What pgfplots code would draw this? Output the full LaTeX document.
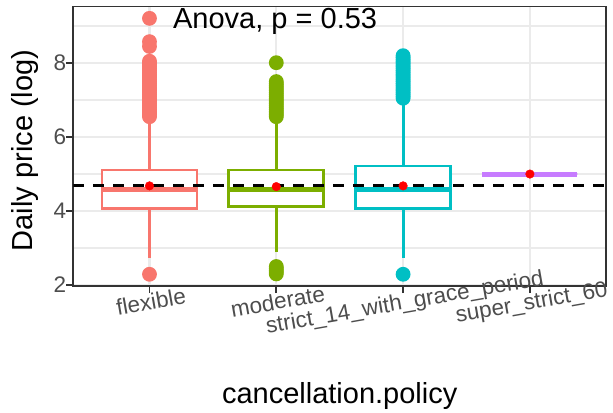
\documentclass[border=0pt]{standalone}
\usepackage{fontspec}
\setmainfont{Liberation Sans}
\usepackage{pgfplots}
\pgfplotsset{compat=1.18}
\usepgfplotslibrary{statistics}

\definecolor{cflex}{HTML}{F8766D}
\definecolor{cmod}{HTML}{7CAE00}
\definecolor{cstrict}{HTML}{00BFC4}
\definecolor{csuper}{HTML}{C77CFF}
\definecolor{gridc}{HTML}{EBEBEB}
\definecolor{frame}{HTML}{333333}
\definecolor{ticktxt}{HTML}{4D4D4D}

\newcommand\tickfont{\fontsize{22.5bp}{26bp}\selectfont}
\newcommand\titlefont{\fontsize{29bp}{34bp}\selectfont}

\begin{document}
\begin{tikzpicture}
\useasboundingbox (0,0) rectangle (613bp,413bp);
\begin{axis}[
  at={(73.4bp,127bp)}, anchor=south west,
  width=532.6bp, height=279.5bp, scale only axis,
  xmin=0.4, xmax=4.6, ymin=1.973, ymax=9.53,
  xtick={1,2,3,4},
  xticklabels={flexible,moderate,strict\_14\_with\_grace\_period,super\_strict\_60},
  ytick={2,4,6,8}, yticklabels={2,4,6,8},
  minor ytick={3,5,7,9},
  grid=both,
  major grid style={draw=gridc, line width=2.4bp},
  minor grid style={draw=gridc, line width=1.2bp},
  axis line style={draw=frame, line width=1.8bp},
  tick align=outside, major tick length=7bp, minor tick length=0pt,
  tick style={draw=frame, line width=1.8bp},
  xtick pos=left, ytick pos=left,
  xticklabel style={font=\tickfont, text=ticktxt, rotate=10, anchor=north, inner sep=0pt},
  yticklabel style={font=\tickfont, text=ticktxt, anchor=east, inner sep=0pt},
  xlabel={cancellation.policy}, ylabel={Daily price (log)},
  xlabel style={font=\titlefont, at={(axis description cs:0.5,-0.4197)}, anchor=base},
  ylabel style={font=\titlefont, at={(axis description cs:-0.0759,0.485)}, anchor=base},
  boxplot/draw direction=y,
  boxplot/box extend=0.75,
  boxplot/whisker extend=0,
  boxplot/every median/.style={line width=5bp},
]
% flexible
\addplot[cflex, line width=2.8bp, fill=white, mark=*, mark size=6bp,
  mark options={draw=none, fill=cflex},
  boxplot prepared={draw position=1, median=4.59, upper quartile=5.11,
    lower quartile=4.07, upper whisker=6.5, lower whisker=2.73}]
  coordinates {(1,2.29)
  (1,6.55) (1,6.60) (1,6.65) (1,6.70) (1,6.75) (1,6.80) (1,6.85) (1,6.90)
  (1,6.95) (1,7.00) (1,7.05) (1,7.10) (1,7.15) (1,7.20) (1,7.25) (1,7.30)
  (1,7.35) (1,7.40) (1,7.45) (1,7.50) (1,7.55) (1,7.60) (1,7.65) (1,7.70)
  (1,7.75) (1,7.80) (1,7.85) (1,7.90) (1,7.95) (1,8.00) (1,8.05)
  (1,8.45) (1,8.58) (1,9.21)};
% moderate
\addplot[cmod, line width=2.8bp, fill=white, mark=*, mark size=6bp,
  mark options={draw=none, fill=cmod},
  boxplot prepared={draw position=2, median=4.57, upper quartile=5.11,
    lower quartile=4.12, upper whisker=6.5, lower whisker=2.9}]
  coordinates {(2,2.30) (2,2.35) (2,2.40) (2,2.45) (2,2.50)
  (2,6.55) (2,6.60) (2,6.65) (2,6.70) (2,6.75) (2,6.80) (2,6.85) (2,6.90)
  (2,6.95) (2,7.00) (2,7.05) (2,7.10) (2,7.15) (2,7.20) (2,7.25) (2,7.30)
  (2,7.35) (2,7.40) (2,7.45) (2,7.50) (2,8.01)};
% strict_14_with_grace_period
\addplot[cstrict, line width=2.8bp, fill=white, mark=*, mark size=6bp,
  mark options={draw=none, fill=cstrict},
  boxplot prepared={draw position=3, median=4.59, upper quartile=5.22,
    lower quartile=4.07, upper whisker=7.0, lower whisker=2.73}]
  coordinates {(3,2.29)
  (3,7.05) (3,7.10) (3,7.15) (3,7.20) (3,7.25) (3,7.30) (3,7.35) (3,7.40)
  (3,7.45) (3,7.50) (3,7.55) (3,7.60) (3,7.65) (3,7.70) (3,7.75) (3,7.80)
  (3,7.85) (3,7.90) (3,7.95) (3,8.00) (3,8.05) (3,8.10) (3,8.15) (3,8.20)};
% super_strict_60
\addplot[csuper, line width=2.8bp, fill=white, mark=*, mark size=6bp,
  mark options={draw=none, fill=csuper},
  boxplot prepared={draw position=4, median=5.0, upper quartile=5.0,
    lower quartile=5.0, upper whisker=5.0, lower whisker=5.0}]
  coordinates {};
% overall mean
\addplot[black, line width=3bp, dash pattern=on 11bp off 9bp]
  coordinates {(0.4,4.68) (4.6,4.68)};
% group means
\addplot[only marks, mark=*, mark size=4.3bp, red, mark options={draw=none, fill=red}]
  coordinates {(1,4.68) (2,4.66) (3,4.68) (4,5.0)};
\node[anchor=base west, inner sep=0pt, font=\titlefont] at (axis cs:1.185,8.94) {Anova, p = 0.53};
\end{axis}
\end{tikzpicture}
\end{document}
